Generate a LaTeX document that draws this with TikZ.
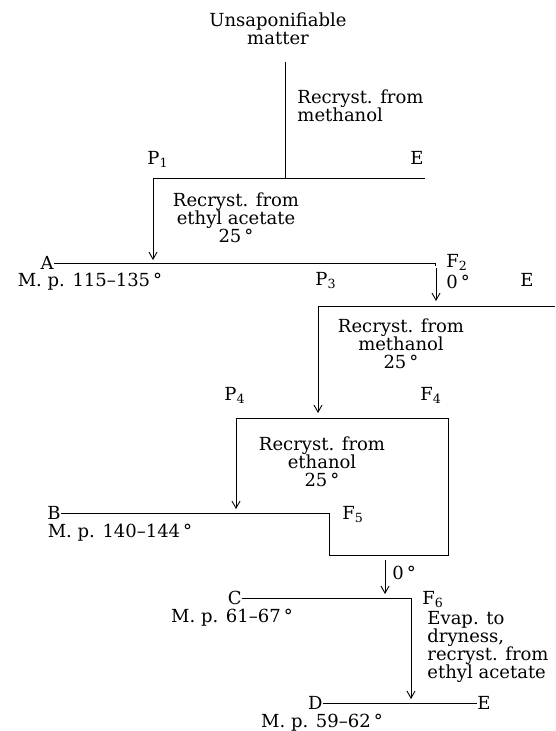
\documentclass[tikz,border=0pt]{standalone}
\usepackage{fontspec}
\setmainfont{DejaVu Serif}
\usetikzlibrary{arrows.meta}
\begin{document}
\begin{tikzpicture}[x=1pt, y=-1pt,
    every node/.style={inner sep=0pt, font=\fontsize{18}{18}\selectfont},
    flow/.style={-{Straight Barb[length=7pt,width=8pt]}},
    every path/.style={line width=0.9pt}]
    \useasboundingbox (0,0) rectangle (555,731);

    % Starting material
    \node[anchor=north, align=center] (unsap) at (278,12) {Unsaponifiable\\matter};
    \coordinate (top) at (285,62);
    \coordinate (mid1) at (285,178);
    \draw (top) -- (mid1);
    \node[anchor=north west, align=left] (recr1) at (297,89) {Recryst. from\\methanol};

    % First split: P1 / E
    \coordinate (p1) at (153,178);
    \coordinate (e1) at (425,178);
    \draw (p1) -- (e1);
    \node[anchor=north west] (lp1) at (147,151) {P\textsubscript{1}};
    \node[anchor=north east] (le1) at (424,151) {E};

    % P1 -> A / F2
    \coordinate (ain) at (153,260);
    \draw[flow] (p1) -- (ain);
    \node[anchor=north, align=center] (recr2) at (236,192) {Recryst. from\\ethyl acetate\\25\thinspace°};
    \node[anchor=east] (A) at (54,263) {A};
    \node[anchor=north] (mpA) at (90,273) {M. p. 115–135\thinspace°};
    \coordinate (f2c) at (435,263);
    \coordinate (f2h) at (435,266);
    \draw (A) -- (f2c) -- (f2h);
    \node[anchor=north west] (lf2) at (446,254) {F\textsubscript{2}};
    \node[anchor=north west] (t2) at (446,275) {0\thinspace°};

    % F2 -> P3 / E
    \coordinate (f2s) at (436,268);
    \coordinate (f2t) at (436,301);
    \draw[flow] (f2s) -- (f2t);
    \coordinate (p3) at (318,306);
    \coordinate (e2) at (555,306);
    \draw (p3) -- (e2);
    \node[anchor=north west] (lp3) at (315,272) {P\textsubscript{3}};
    \node[anchor=north west] (le2) at (520,273) {E};
    \node[anchor=north, align=center] (recr3) at (401,318) {Recryst. from\\methanol\\25\thinspace°};

    % P3 -> P4 / F4
    \coordinate (p4in) at (318,413);
    \draw[flow] (p3) -- (p4in);
    \node[anchor=north west] (lp4) at (224,387) {P\textsubscript{4}};
    \node[anchor=north west] (lf4) at (420,387) {F\textsubscript{4}};
    \coordinate (p4c) at (236,418);
    \coordinate (f4c) at (448,418);
    \coordinate (f4b) at (448,555);
    \coordinate (f5b) at (329,555);
    \coordinate (f5c) at (329,513);
    \node[anchor=north, align=center] (recr4) at (322,436) {Recryst. from\\ethanol\\25\thinspace°};

    % P4 -> B / F5
    \node[anchor=east] (B) at (61,513) {B};
    \coordinate (bin) at (236,509);
    \draw (B) -- (f5c) -- (f5b) -- (f4b) -- (f4c) -- (p4c);
    \draw[flow] (p4c) -- (bin);
    \node[anchor=north west] (lf5) at (342,506) {F\textsubscript{5}};
    \node[anchor=north] (mpB) at (120,524) {M. p. 140–144\thinspace°};

    % F5 -> C / F6
    \coordinate (f6s) at (385,560);
    \coordinate (f6t) at (385,594);
    \draw[flow] (f6s) -- (f6t);
    \node[anchor=north west] (t6) at (392,566) {0\thinspace°};
    \node[anchor=east] (C) at (242,598) {C};
    \coordinate (f6c) at (411,598);
    \coordinate (din) at (411,699);
    \draw[flow] (C) -- (f6c) -- (din);
    \node[anchor=north west] (lf6) at (422,591) {F\textsubscript{6}};
    \node[anchor=north] (mpC) at (232,609) {M. p. 61–67\thinspace°};
    \node[anchor=north west, align=left] (evap) at (427,611) {Evap. to\\dryness,\\recryst. from\\ethyl acetate};

    % F6 -> D / E
    \node[anchor=east] (D) at (323,703) {D};
    \node[anchor=west] (le3) at (477,703) {E};
    \draw (D) -- (le3);
    \node[anchor=north] (mpD) at (322,714) {M. p. 59–62\thinspace°};
\end{tikzpicture}
\end{document}
